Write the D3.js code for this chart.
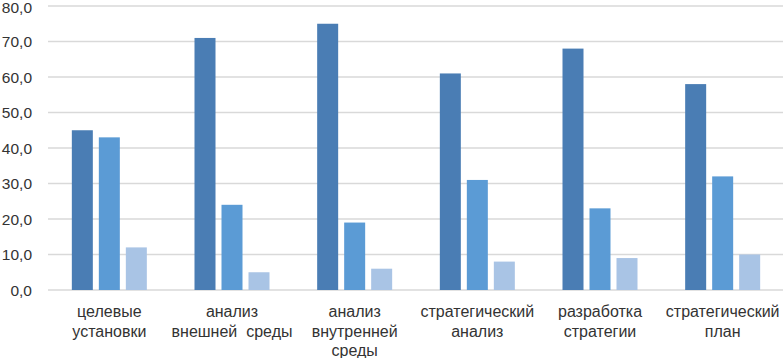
<!DOCTYPE html>
<html>
<head>
<meta charset="utf-8">
<script src="https://cdn.jsdelivr.net/npm/d3@7"></script>
<style>
  body { margin: 0; background: #fff; }
  text { font-family: "Liberation Sans", Arial, sans-serif; }
</style>
</head>
<body>
<div id="chart"></div>
<script>
// Data
const categories = [
    ["целевые", "установки"],
    ["анализ", "внешней  среды"],
    ["анализ", "внутренней", "среды"],
    ["стратегический", "анализ"],
    ["разработка", "стратегии"],
    ["стратегический", "план"]
];
const series1 = [45, 71, 75, 61, 68, 58];
const series2 = [43, 24, 19, 31, 23, 32];
const series3 = [12, 5, 6, 8, 9, 10];
const yTicks = [0, 10, 20, 30, 40, 50, 60, 70, 80];

const seriesList = [series1, series2, series3];
const colors = ["#4a7db4", "#5b9bd5", "#a9c4e5"];

// Dimensions
const width = 783;
const height = 358;
const plotLeft = 48, plotRight = 784, plotTop = 6, plotBottom = 290;

const svg = d3.select("#chart")
    .append("svg")
    .attr("width", width)
    .attr("height", height);

const x = d3.scaleBand()
    .domain(d3.range(categories.length))
    .range([plotLeft, plotRight]);

const y = d3.scaleLinear()
    .domain([0, 80])
    .range([plotBottom, plotTop]);

const barW = 21, gap = 6;
const groupW = barW * 3 + gap * 2;

// Gridlines
svg.selectAll(".grid")
    .data(yTicks)
    .enter()
    .append("line")
    .attr("x1", plotLeft)
    .attr("x2", width)
    .attr("y1", d => y(d))
    .attr("y2", d => y(d))
    .attr("stroke", "#d9d9d9")
    .attr("stroke-width", 1.5);

// Y tick labels
svg.selectAll(".ylab")
    .data(yTicks)
    .enter()
    .append("text")
    .attr("x", 32)
    .attr("y", d => Math.max(y(d) + 5.5, 12.5))
    .attr("text-anchor", "end")
    .style("font-size", "15.5px")
    .style("fill", "#333")
    .text(d => d.toFixed(1).replace(".", ","));

// Bars
seriesList.forEach((s, si) => {
    svg.selectAll(".bar" + si)
        .data(s)
        .enter()
        .append("rect")
        .attr("x", (d, i) => x(i) + (x.bandwidth() - groupW) / 2 + si * (barW + gap))
        .attr("y", d => y(d))
        .attr("width", barW)
        .attr("height", d => y(0) - y(d))
        .attr("fill", colors[si]);
});

// Category labels
const labels = svg.selectAll(".xlab")
    .data(categories)
    .enter()
    .append("text")
    .attr("text-anchor", "middle")
    .style("font-size", "16px")
    .style("fill", "#333")
    .attr("transform", (d, i) => `translate(${x(i) + x.bandwidth() / 2},317)`);

labels.selectAll("tspan")
    .data(d => d)
    .enter()
    .append("tspan")
    .attr("x", 0)
    .attr("y", (d, i) => i * 19.5)
    .style("white-space", "pre")
    .text(d => d);
</script>
</body>
</html>
